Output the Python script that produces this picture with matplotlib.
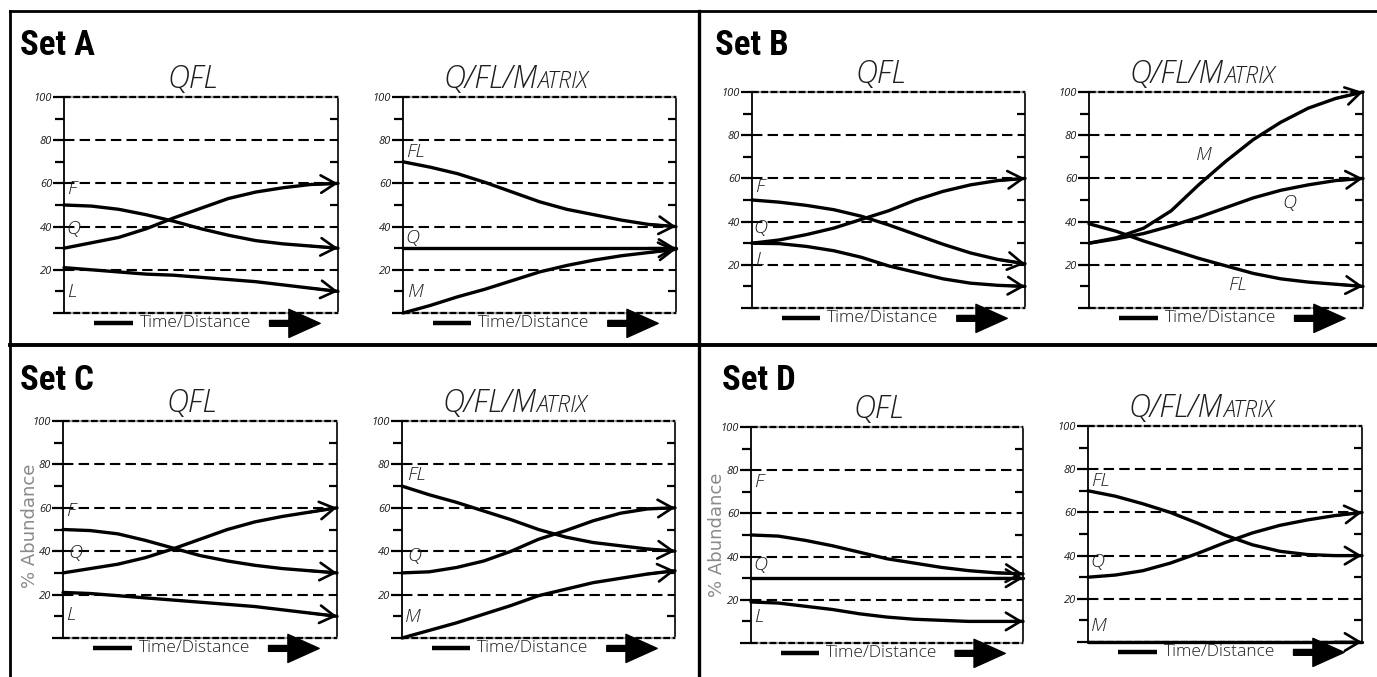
import numpy as np
import matplotlib.pyplot as plt
from matplotlib.patches import FancyArrowPatch

plt.rcParams['font.family'] = ['Open Sans', 'DejaVu Sans']

W, H = 1377, 677

# time/distance steps (arbitrary units), same for every panel
steps = np.arange(11)

# Set A
a_qfl_q = [30, 32.5, 35, 39, 44, 48.5, 53, 56, 58, 59.5, 60]
a_qfl_f = [50, 49.5, 48, 45.5, 42.5, 39, 36, 33.5, 32, 31, 30]
a_qfl_l = [21, 20, 19, 18, 17.5, 16.5, 15.5, 14.5, 13, 11.5, 10]
a_mat_fl = [70, 67.5, 64.5, 60.5, 56, 51.5, 48, 45.5, 43, 41, 40]
a_mat_q = [30, 30, 30, 30, 30, 30, 30, 30, 30, 30, 30]
a_mat_m = [0, 3.5, 7.5, 11, 15, 19, 22, 24.5, 26.5, 28, 29.5]

# Set B
b_qfl_q = [30, 31.5, 34, 37, 41, 45, 50, 54, 57, 59, 60]
b_qfl_f = [50, 49, 47.5, 45.5, 42.5, 38.5, 34, 29.5, 25.5, 22.5, 20.5]
b_qfl_l = [30, 29.8, 28.5, 26.5, 23.5, 19.5, 16.5, 13.5, 11.5, 10.5, 10]
b_mat_m = [30, 32.5, 37, 45, 57, 68, 78, 86, 92.5, 97, 100]
b_mat_q = [30, 32, 34.5, 38, 42, 46.5, 51, 54.5, 57, 59, 60]
b_mat_fl = [39, 35.5, 31, 27, 23, 19.5, 16, 13.5, 12, 11, 10]

# Set C
c_qfl_q = [30, 32, 34, 37, 41, 45.5, 50, 53.5, 56, 58, 60]
c_qfl_f = [50, 49.5, 48, 45, 41.5, 38, 35.5, 33.5, 32, 31, 30]
c_qfl_l = [21, 20.5, 19.5, 18.5, 17.5, 16.5, 15.5, 14.5, 13, 11.5, 10]
c_mat_fl = [70, 66, 62.5, 58.5, 54.5, 50, 46.5, 44, 42.5, 41, 40]
c_mat_q = [30, 30.5, 32.5, 35.5, 40, 45.5, 49.5, 54, 57.5, 59.5, 60]
c_mat_m = [0, 3.5, 7, 11, 15, 19.5, 22.5, 25.5, 27.5, 29.5, 31]

# Set D
d_qfl_f = [50, 49.5, 47.5, 45, 42, 39, 37, 35, 33.5, 32.5, 32]
d_qfl_q = [30, 30, 30, 30, 30, 30, 30, 30, 30, 30, 30]
d_qfl_l = [19, 18.5, 17, 15.5, 13.5, 12, 11, 10.5, 10, 10, 10]
d_mat_fl = [70, 67.5, 64, 60, 55, 49.5, 45, 42, 40.5, 40, 40]
d_mat_q = [30, 31, 33, 36.5, 41, 46, 50.5, 54, 56.5, 58.5, 60]
d_mat_m = [0, 0, 0, 0, 0, 0, 0, 0, 0, 0, 0]

set_names = ['Set A', 'Set B', 'Set C', 'Set D']
ytick_vals = [0, 20, 40, 60, 80, 100]
ytick_text = ['', '20', '40', '60', '80', '100']

TXT = '#1e1e1e'


def px_box(l, t, r, b):
    return [l / W, 1 - b / H, (r - l) / W, (b - t) / H]


def fx(x):
    return x / W


def fy(y):
    return 1 - y / H


def draw_panel(fig, box, series, labels):
    ax = fig.add_axes(px_box(*box))
    ax.set_xlim(0, 10)
    ax.set_ylim(0, 100)
    ax.patch.set_alpha(0)
    for s in ['top', 'bottom', 'right']:
        ax.spines[s].set_visible(False)
    ax.spines['left'].set_linewidth(1.3)
    ax.set_xticks([])
    ax.set_yticks(ytick_vals)
    ax.set_yticklabels(ytick_text)
    ax.set_yticks([10, 30, 50, 70, 90], minor=True)
    ax.tick_params(axis='y', which='major', direction='out', length=8,
                   width=1.6, pad=0.5, labelsize=8, labelcolor=TXT)
    ax.tick_params(axis='y', which='minor', direction='out', length=6.5, width=1.6)
    for lab in ax.get_yticklabels():
        lab.set_fontstyle('italic')

    sec = ax.secondary_yaxis('right')
    sec.spines['right'].set_linewidth(1.2)
    sec.set_yticks([10, 30, 50, 70, 90])
    sec.tick_params(direction='in', length=6, width=1.6, labelright=False)

    for v in (20, 40, 60, 80):
        ax.axhline(v, color='k', lw=1.5, ls=(0, (5, 2.5)), zorder=1)
    for v in (0, 100):
        ax.axhline(v, color='#a0a0a0', lw=1.6, clip_on=False, zorder=1)
        ax.axhline(v, color='k', lw=1.6, ls=(0, (3, 1.2)), clip_on=False, zorder=1.1)

    for ys in series:
        ax.plot(steps, ys, color='k', lw=2.4, clip_on=False,
                solid_capstyle='round', solid_joinstyle='round', zorder=3)
        ax.annotate('', xy=(steps[-1], ys[-1]), xytext=(steps[-2], ys[-2]),
                    arrowprops=dict(arrowstyle='->,head_length=0.75,head_width=0.45',
                                    lw=1.9, color='k', shrinkA=0, shrinkB=0,
                                    mutation_scale=14),
                    annotation_clip=False, zorder=4)

    for txt, x, y, ha in labels:
        ax.text(x, y, txt, ha=ha, va='center', fontsize=14, style='italic',
                fontweight='light', color=TXT, zorder=5)

    # Time/Distance marker below the axes
    yb = -0.048
    ax.plot([0.11, 0.25], [yb, yb], transform=ax.transAxes, color='k', lw=3.2,
            solid_capstyle='butt', clip_on=False)
    ax.text(0.48, yb, 'Time/Distance', transform=ax.transAxes, ha='center',
            va='center', fontsize=12.5, fontweight='light', color=TXT)
    arr = FancyArrowPatch((0.74, yb), (0.945, yb), transform=ax.transAxes,
                          arrowstyle='simple,head_length=1.5,head_width=1.35,tail_width=0.28',
                          mutation_scale=15, color='k', clip_on=False)
    ax.add_patch(arr)
    return ax


def panel_title(fig, box, matrix):
    l, t, r, b = box
    cx = (l + r) / 2
    base = fy(t - 9)
    kw = dict(style='italic', fontweight='light', color=TXT, va='baseline')
    if matrix:
        fig.text(fx(cx - 2), base, 'Q/FL/M', ha='right', fontsize=22, **kw)
        fig.text(fx(cx - 2), base, 'ATRIX', ha='left', fontsize=16.5, **kw)
    else:
        fig.text(fx(cx - 8), base, 'QFL', ha='center', fontsize=22, **kw)


fig = plt.figure(figsize=(W / 100, H / 100), dpi=100)

# frame lines
fig.add_artist(plt.Line2D([fx(10), fx(10)], [fy(11), fy(677)], color='k', lw=2))
fig.add_artist(plt.Line2D([fx(10), fx(1377)], [fy(11), fy(11)], color='k', lw=2))
fig.add_artist(plt.Line2D([fx(699), fx(699)], [fy(11), fy(677)], color='k', lw=2.4))
fig.add_artist(plt.Line2D([fx(10), fx(1377)], [fy(345), fy(345)], color='k', lw=2.8))

boxes = [
    (64, 97, 338, 313), (403, 97, 676, 313),
    (752, 92, 1025, 308), (1089, 92, 1363, 308),
    (63, 421, 337, 638), (402, 421, 675, 638),
    (751, 427, 1023, 643), (1088, 426, 1362, 642),
]

series = [
    [a_qfl_q, a_qfl_f, a_qfl_l], [a_mat_fl, a_mat_q, a_mat_m],
    [b_qfl_q, b_qfl_f, b_qfl_l], [b_mat_m, b_mat_q, b_mat_fl],
    [c_qfl_q, c_qfl_f, c_qfl_l], [c_mat_fl, c_mat_q, c_mat_m],
    [d_qfl_f, d_qfl_q, d_qfl_l], [d_mat_fl, d_mat_q, d_mat_m],
]

labels = [
    [('F', 0.1, 57.5, 'left'), ('Q', 0.1, 39, 'left'), ('L', 0.1, 9.5, 'left')],
    [('FL', 0.1, 74.5, 'left'), ('Q', 0.1, 34.5, 'left'), ('M', 0.2, 9.5, 'left')],
    [('F', 0.1, 56, 'left'), ('Q', 0.05, 37, 'left'), ('L', 0.1, 22, 'left')],
    [('M', 4.2, 71, 'center'), ('Q', 7.3, 48.5, 'center'), ('FL', 5.4, 10.5, 'center')],
    [('F', 0.1, 58.5, 'left'), ('Q', 0.2, 39, 'left'), ('L', 0.1, 10.5, 'left')],
    [('FL', 0.2, 75, 'left'), ('Q', 0.2, 38, 'left'), ('M', 0.1, 9.5, 'left')],
    [('F', 0.1, 74.5, 'left'), ('Q', 0.1, 36, 'left'), ('L', 0.1, 12, 'left')],
    [('FL', 0.1, 74.5, 'left'), ('Q', 0.1, 37, 'left'), ('M', 0.1, 7.5, 'left')],
]

for i, box in enumerate(boxes):
    draw_panel(fig, box, series[i], labels[i])
    panel_title(fig, box, matrix=(i % 2 == 1))

set_pos = [(20, 55), (715, 55), (20, 390), (722, 390)]
for name, (x, y) in zip(set_names, set_pos):
    fig.text(fx(x), fy(y), name, ha='left', va='baseline', fontsize=25,
             fontweight='bold', family=['Roboto Condensed', 'DejaVu Sans'])

for x, y in [(30, 526), (717, 535)]:
    fig.text(fx(x), fy(y), '% Abundance', rotation=90, ha='center', va='center',
             fontsize=13, color='#8a8a8a', family=['DejaVu Sans'])

fig.savefig('out.png', dpi=100)
